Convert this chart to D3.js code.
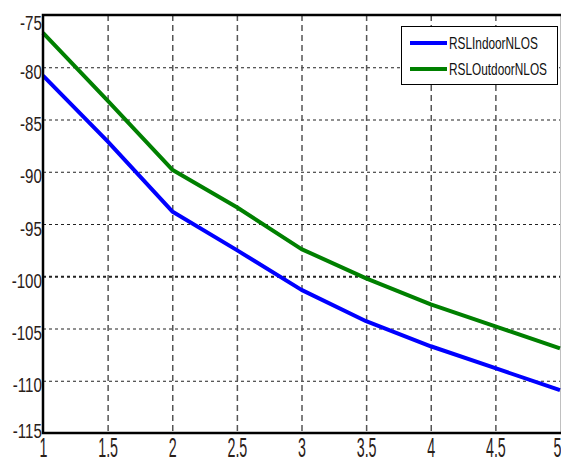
<!DOCTYPE html>
<html lang="en">
<head>
<meta charset="UTF-8">
<title>RSL NLOS</title>
<style>
  body { margin: 0; background: #fff; }
  .tick text { font-family: "Liberation Sans", Arial, sans-serif; font-size: 21px; fill: #2a2018; }
  .legend text { font-family: "Liberation Sans", Arial, sans-serif; font-size: 16px; fill: #111; }
  .line { fill: none; stroke-width: 4px; stroke-linejoin: round; }
</style>
</head>
<body>
<svg width="561" height="462"></svg>
<script src="https://d3js.org/d3.v7.min.js"></script>
<script>
var distance = [1, 1.5, 2, 2.5, 3, 3.5, 4, 4.5, 5];
var rslIndoor = [-80.8, -87.1, -93.8, -97.5, -101.3, -104.3, -106.7, -108.8, -110.9];
var rslOutdoor = [-76.7, -83.2, -89.8, -93.4, -97.4, -100.2, -102.7, -104.8, -106.9];
var seriesNames = ["RSLIndoorNLOS", "RSLOutdoorNLOS"];
var seriesColors = ["#0000ff", "#008000"];
var xTicks = [1, 1.5, 2, 2.5, 3, 3.5, 4, 4.5, 5];
var yTicks = [-115, -110, -105, -100, -95, -90, -85, -80, -75];

var svg = d3.select("svg"),
    plotL = 43, plotR = 560, plotT = 15, plotB = 433;

var x = d3.scaleLinear().domain([1, 5]).range([plotL, plotR]),
    y = d3.scaleLinear().domain([-115, -75]).range([plotB, plotT]);

var plain = function(d) { return String(d); };

// grid
svg.append("g").selectAll("line")
  .data(yTicks.slice(1, -1))
  .enter().append("line")
    .attr("x1", plotL).attr("x2", plotR)
    .attr("y1", function(d) { return y(d) + 0.5; })
    .attr("y2", function(d) { return y(d) + 0.5; })
    .attr("stroke", "#222")
    .attr("stroke-width", function(d) { return d === -100 ? 2 : 1.2; })
    .attr("stroke-dasharray", "3,3");

svg.append("g").selectAll("line")
  .data(xTicks.slice(1, -1))
  .enter().append("line")
    .attr("y1", plotT).attr("y2", plotB)
    .attr("x1", function(d) { return x(d) + 0.5; })
    .attr("x2", function(d) { return x(d) + 0.5; })
    .attr("stroke", "#555")
    .attr("stroke-width", 1.5)
    .attr("stroke-dasharray", "6,4");

// axes
var xAxis = svg.append("g")
  .attr("transform", "translate(0," + plotB + ")")
  .call(d3.axisBottom(x).tickValues(xTicks).tickSize(0).tickFormat(plain));
xAxis.select(".domain").remove();
xAxis.selectAll("text")
  .attr("dy", null)
  .attr("y", 24 / 1.3)
  .attr("transform", "scale(0.68,1.3)");
xAxis.selectAll(".tick").filter(function(d) { return d === 5; }).select("text")
  .attr("text-anchor", "end").attr("x", 1.5);

var yOffset = function(d) { return d === -75 ? 14 : d === -115 ? 4 : 11; };
var yAxis = svg.append("g")
  .attr("transform", "translate(" + plotL + ",0)")
  .call(d3.axisLeft(y).tickValues(yTicks).tickSize(0).tickPadding(1.5).tickFormat(plain));
yAxis.select(".domain").remove();
yAxis.selectAll("text")
  .attr("dy", null)
  .attr("y", yOffset)
  .attr("transform", "scale(0.72,1)");

// lines
var line = d3.line()
  .x(function(d) { return x(d[0]); })
  .y(function(d) { return y(d[1]); });

[rslIndoor, rslOutdoor].forEach(function(vals, i) {
  svg.append("path")
    .attr("class", "line")
    .attr("stroke", seriesColors[i])
    .attr("d", line(distance.map(function(d, j) { return [d, vals[j]]; })));
});

// frame
svg.append("rect")
  .attr("x", plotL).attr("y", plotT)
  .attr("width", plotR - plotL + 2).attr("height", plotB - plotT)
  .attr("fill", "none").attr("stroke", "#000").attr("stroke-width", 2.5);

// legend
var legend = svg.append("g").attr("class", "legend");
legend.append("rect")
  .attr("x", 401.5).attr("y", 26.5).attr("width", 156).attr("height", 58)
  .attr("fill", "#fff").attr("stroke", "#000").attr("stroke-width", 1);
seriesNames.forEach(function(name, i) {
  var ly = 43 + i * 26;
  legend.append("line")
    .attr("x1", 410).attr("x2", 447).attr("y1", ly).attr("y2", ly)
    .attr("stroke", seriesColors[i]).attr("stroke-width", 4);
  legend.append("text")
    .attr("transform", "translate(449," + (ly + 6) + ") scale(0.74,1)")
    .text(name);
});
</script>
</body>
</html>
